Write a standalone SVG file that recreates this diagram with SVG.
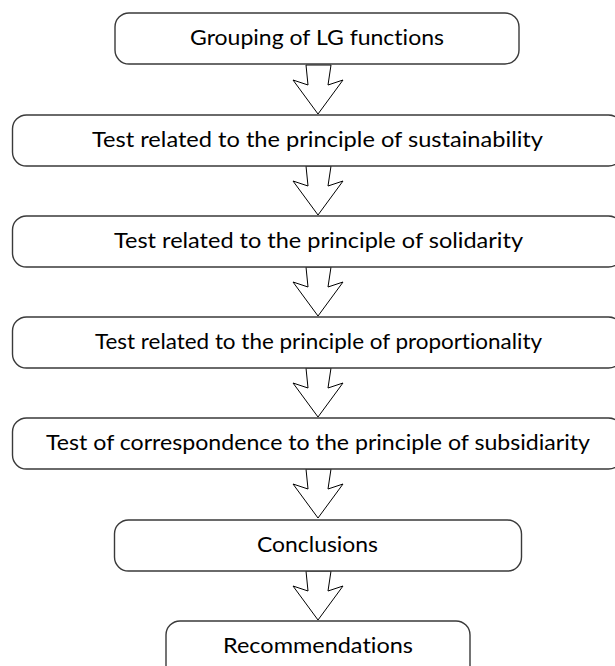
<svg xmlns="http://www.w3.org/2000/svg" width="615" height="666" viewBox="0 0 615 666">
<defs>
<style>
.box{fill:#fff;stroke:#3a3a3a;stroke-width:1.4}
.lbl{font-family:Lato,"Open Sans","Liberation Sans",sans-serif;font-size:22px;fill:#000;text-anchor:middle;font-variant-ligatures:none}
.arr{fill:#fff;stroke:#000;stroke-width:1;stroke-linejoin:miter}
</style>
<polygon id="ar" points="306,0 308,20 293,15 318,49 343,15 328,20 331,0"/>
</defs>
<rect width="615" height="666" fill="#fff"/>
<g id="connectors">
<use href="#ar" class="arr" y="65"/>
<use href="#ar" class="arr" y="166"/>
<use href="#ar" class="arr" y="267"/>
<use href="#ar" class="arr" y="368"/>
<use href="#ar" class="arr" y="469"/>
<use href="#ar" class="arr" y="571"/>
</g>
<g id="n1"><rect class="box" x="115" y="13" width="404" height="51" rx="14"/><text class="lbl" x="317" y="45" textLength="254" lengthAdjust="spacingAndGlyphs">Grouping of LG functions</text></g>
<g id="n2"><rect class="box" x="12.5" y="115" width="610" height="51" rx="14"/><text class="lbl" x="317.5" y="147" textLength="451" lengthAdjust="spacingAndGlyphs">Test related to the principle of sustainability</text></g>
<g id="n3"><rect class="box" x="12.5" y="216" width="610" height="51" rx="14"/><text class="lbl" x="318.5" y="248" textLength="409" lengthAdjust="spacingAndGlyphs">Test related to the principle of solidarity</text></g>
<g id="n4"><rect class="box" x="12.5" y="317" width="610" height="51" rx="14"/><text class="lbl" x="318.5" y="349" textLength="447" lengthAdjust="spacingAndGlyphs">Test related to the principle of proportionality</text></g>
<g id="n5"><rect class="box" x="12.5" y="418" width="610" height="51" rx="14"/><text class="lbl" x="318" y="450" textLength="544" lengthAdjust="spacingAndGlyphs">Test of correspondence to the principle of subsidiarity</text></g>
<g id="n6"><rect class="box" x="114.5" y="520" width="407" height="51" rx="14"/><text class="lbl" x="317.5" y="552" textLength="121" lengthAdjust="spacingAndGlyphs">Conclusions</text></g>
<g id="n7"><rect class="box" x="166" y="621" width="304" height="60" rx="14"/><text class="lbl" x="318" y="653" textLength="190" lengthAdjust="spacingAndGlyphs">Recommendations</text></g>
</svg>
